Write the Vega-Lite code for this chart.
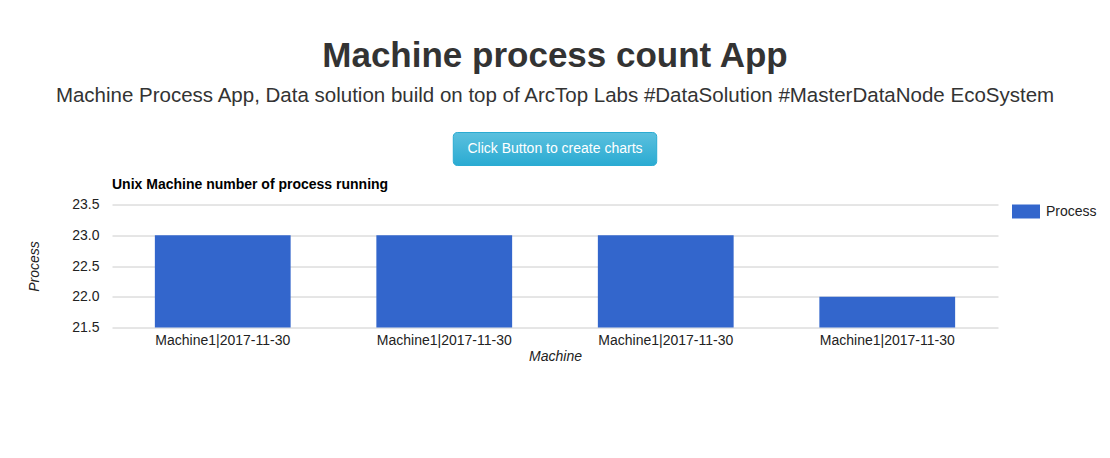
{
  "$schema": "https://vega.github.io/schema/vega-lite/v6.json",
  "padding": {"left": 27, "top": 38.5, "right": 0, "bottom": 0},
  "background": "white",
  "config": {"font": "Liberation Sans", "view": {"stroke": null}},
  "spacing": 11,
  "resolve": {"legend": {"color": "independent"}},
  "vconcat": [
    {
      "width": 886,
      "height": 33,
      "title": {
        "text": "Machine process count App",
        "subtitle": "Machine Process App, Data solution build on top of ArcTop Labs #DataSolution #MasterDataNode EcoSystem",
        "anchor": "middle",
        "font": "Liberation Sans",
        "fontSize": 35,
        "fontWeight": "bold",
        "color": "#333333",
        "subtitleFont": "Liberation Sans",
        "subtitleFontSize": 20.5,
        "subtitleColor": "#333333",
        "subtitlePadding": 11.5,
        "offset": 26
      },
      "data": {"values": [{"label": "Click Button to create charts"}]},
      "layer": [
        {
          "mark": {
            "type": "rect",
            "cornerRadius": 4,
            "stroke": "#2aabd2",
            "strokeWidth": 1,
            "color": {
              "gradient": "linear",
              "x1": 0, "y1": 0, "x2": 0, "y2": 1,
              "stops": [
                {"offset": 0, "color": "#5bc0de"},
                {"offset": 1, "color": "#2aabd2"}
              ]
            }
          },
          "encoding": {
            "x": {"datum": 0.3852, "type": "quantitative", "scale": {"domain": [0, 1], "nice": false, "zero": false}, "axis": null},
            "x2": {"datum": 0.6148},
            "y": {"datum": 0, "type": "quantitative", "scale": {"domain": [0, 1], "nice": false, "zero": false}, "axis": null},
            "y2": {"datum": 1}
          }
        },
        {
          "mark": {"type": "text", "color": "white", "fontSize": 14, "font": "Liberation Sans", "baseline": "middle", "align": "center"},
          "encoding": {
            "x": {"datum": 0.5, "type": "quantitative", "scale": {"domain": [0, 1], "nice": false, "zero": false}, "axis": null},
            "y": {"datum": 0.5, "type": "quantitative", "scale": {"domain": [0, 1], "nice": false, "zero": false}, "axis": null},
            "text": {"field": "label"}
          }
        }
      ]
    },
    {
      "width": 886,
      "height": 123,
      "title": {
        "text": "Unix Machine number of process running",
        "anchor": "start",
        "frame": "group",
        "font": "Liberation Sans",
        "fontSize": 14,
        "fontWeight": "bold",
        "color": "#000000",
        "offset": 5.5
      },
      "data": {
        "values": [
          {"machine": "Machine1|2017-11-30#1", "process": 23, "series": "Process"},
          {"machine": "Machine1|2017-11-30#2", "process": 23, "series": "Process"},
          {"machine": "Machine1|2017-11-30#3", "process": 23, "series": "Process"},
          {"machine": "Machine1|2017-11-30#4", "process": 22, "series": "Process"}
        ]
      },
      "mark": {"type": "bar", "clip": true},
      "encoding": {
        "x": {
          "field": "machine",
          "type": "nominal",
          "sort": null,
          "scale": {"paddingInner": 0.387, "paddingOuter": 0.1935},
          "axis": {
            "title": "Machine",
            "labelAngle": 0,
            "labelExpr": "split(datum.label, '#')[0]",
            "domain": false,
            "ticks": false,
            "labelPadding": 6,
            "labelFontSize": 14,
            "labelColor": "#222222",
            "titleFontSize": 14,
            "titleFontStyle": "italic",
            "titleFontWeight": "normal",
            "titleColor": "#222222",
            "titlePadding": 2
          }
        },
        "y": {
          "field": "process",
          "type": "quantitative",
          "scale": {"domain": [21.5, 23.5], "zero": false, "nice": false},
          "axis": {
            "title": "Process",
            "values": [21.5, 22, 22.5, 23, 23.5],
            "format": ".1f",
            "gridColor": "#cccccc",
            "gridOpacity": 1,
            "domain": false,
            "ticks": false,
            "labelPadding": 13,
            "labelFontSize": 14,
            "labelColor": "#222222",
            "titleFontSize": 14,
            "titleFontStyle": "italic",
            "titleFontWeight": "normal",
            "titleColor": "#222222",
            "titlePadding": 30
          }
        },
        "color": {
          "field": "series",
          "type": "nominal",
          "scale": {"range": ["#3366cc"]},
          "legend": {
            "title": null,
            "orient": "right",
            "offset": 21,
            "padding": 0,
            "symbolType": "M-2,-1H2V1H-2Z",
            "symbolSize": 196,
            "symbolStrokeWidth": 0,
            "labelFontSize": 14,
            "labelColor": "#222222",
            "labelOffset": 13
          }
        }
      }
    }
  ]
}
